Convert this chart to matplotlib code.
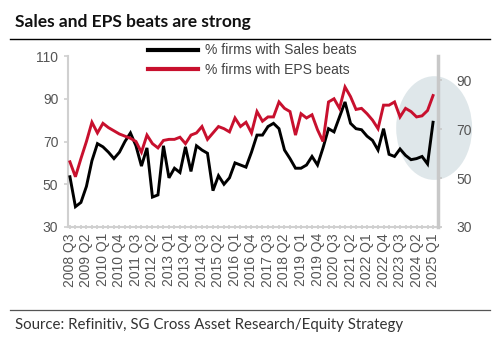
import matplotlib
matplotlib.use("Agg")
import matplotlib.pyplot as plt
from matplotlib.patches import Ellipse
from matplotlib.lines import Line2D
import numpy as np

# ---- data ----
start_year, start_q = 2008, 3
n_quarters = 67
quarters = []
y, q = start_year, start_q
for _ in range(n_quarters):
    quarters.append(f"{y} Q{q}")
    q += 1
    if q > 4:
        q = 1
        y += 1

sales_beats = [53.5, 39.5, 41.5, 49, 61, 69, 67.5, 65, 62, 65, 70, 74, 68, 58.5, 67, 44,
               45, 68, 53, 57.5, 55.5, 67.5, 56, 68, 66, 64.5, 47, 54, 50, 53, 60, 59,
               58, 65, 73, 73, 77, 78.5, 76, 66, 62, 57.5, 57.5, 59, 63, 59, 67, 76,
               74.5, 81.5, 88.5, 78.5, 76, 75.5, 72.5, 70.5, 66, 76, 64, 63, 66.5, 63.5,
               61.5, 62, 63, 59.5, 79]
eps_beats = [60.5, 53.5, 62, 70, 79, 74, 78.5, 76.5, 75, 73.5, 72.5, 71.5, 70, 65, 73, 69,
             67, 70.5, 71, 71, 72, 69, 73, 74, 77, 71, 74, 77, 76, 74.5, 81, 77,
             79, 74, 84, 79.5, 81.5, 81.5, 88.5, 85.5, 84, 73, 83, 81, 82.5, 75.5, 70, 88.5,
             90, 85.5, 95.5, 91, 85, 85.5, 83, 80, 76, 87, 87, 88.5, 81.5, 85.5,
             84, 81.5, 82, 84.5, 91.5]

left_ticks = [30, 50, 70, 90, 110]
right_ticks = [30, 50, 70, 90]
labels = ["% firms with Sales beats", "% firms with EPS beats"]
title = "Sales and EPS beats are strong"
source = "Source: Refinitiv, SG Cross Asset Research/Equity Strategy"

# ---- figure ----
W, H = 500, 363
fig = plt.figure(figsize=(W / 100, H / 100), dpi=100)
plt.rcParams['font.family'] = ['Liberation Sans', 'DejaVu Sans']

ax = fig.add_axes([68 / W, 1 - 227 / H, (438 - 68) / W, (227 - 56) / H])
x = np.arange(n_quarters)

red = '#c8102e'
ax.plot(x, sales_beats, color='black', lw=2.1, zorder=3, solid_joinstyle='miter')
ax.plot(x, eps_beats, color=red, lw=2.1, zorder=3, solid_joinstyle='miter')

ax.set_xlim(-0.35, 66.9)
ax.set_ylim(30, 110)
ax.set_yticks(left_ticks)
ax.set_xticks(x[::3])
ax.set_xticklabels(quarters[::3], rotation=90)
ax.set_xticks(x, minor=True)

gray_axis = '#d0d0d0'
for s in ['top', 'right']:
    ax.spines[s].set_visible(False)
ax.spines['left'].set_color(gray_axis)
ax.spines['left'].set_linewidth(1.5)
ax.spines['bottom'].set_color(gray_axis)
ax.spines['bottom'].set_linewidth(1.5)
ax.tick_params(axis='y', colors=gray_axis, labelcolor='#555555', labelsize=10, length=3, width=1.2, pad=4)
ax.tick_params(axis='x', which='both', colors=gray_axis, labelcolor='#555555', labelsize=10,
               length=3, width=1.2, direction='inout', pad=3)

# highlight ellipse
ell = Ellipse((66.2, 76.3), width=13.8, height=48.5, facecolor='#dfe7ea', edgecolor='none',
              zorder=0.5, clip_on=False)
ax.add_patch(ell)

ax2 = ax.twinx()
ax2.set_ylim(30, 100)
ax2.set_yticks(right_ticks)
for s in ['top', 'left', 'bottom']:
    ax2.spines[s].set_visible(False)
ax2.spines['right'].set_color('#c8c8c8')
ax2.spines['right'].set_linewidth(2.5)
ax2.tick_params(axis='y', colors='#c8c8c8', labelcolor='#555555', labelsize=10, length=3, width=1.2, pad=10)

# legend
handles = [Line2D([], [], color='black', lw=3), Line2D([], [], color=red, lw=3)]
fig.legend(handles, labels, loc='upper left', bbox_to_anchor=(148 / W, 1 - 43.5 / H),
           frameon=False, fontsize=10, handlelength=3.6, handletextpad=0.5,
           labelspacing=0.4, borderpad=0, borderaxespad=0, labelcolor='#444444')

# title, rules, source
fig.text(15 / W, 1 - 21.5 / H, title, fontsize=12.5, fontweight='bold', family=['Lato', 'DejaVu Sans'],
         color='#111111', va='center', ha='left')
fig.add_artist(Line2D([10 / W, 490 / W], [1 - 38.5 / H, 1 - 38.5 / H], color='black', lw=1.0,
                      transform=fig.transFigure))
fig.add_artist(Line2D([10 / W, 490 / W], [1 - 310 / H, 1 - 310 / H], color='#555555', lw=0.9,
                      transform=fig.transFigure))
fig.text(15 / W, 1 - 325.5 / H, source, fontsize=10.8, family=['Lato', 'DejaVu Sans'],
         color='#333333', va='center', ha='left')

fig.savefig('out.png', dpi=100)
